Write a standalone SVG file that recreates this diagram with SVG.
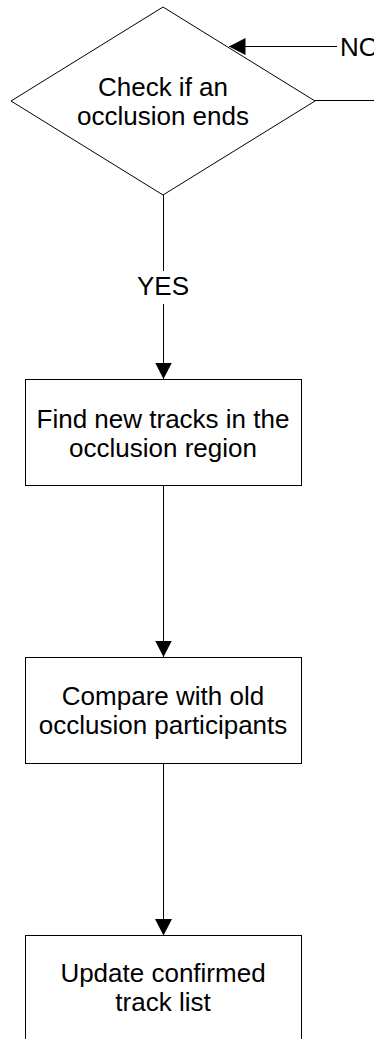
<svg xmlns="http://www.w3.org/2000/svg" width="374" height="1039" viewBox="0 0 374 1039">
  <style>
    .shape { fill: #ffffff; stroke: #000000; stroke-width: 1; }
    .edge { fill: none; stroke: #000000; stroke-width: 1; }
    .label { font-family: "Liberation Sans", Arial, sans-serif; font-size: 26px; fill: #000000; text-anchor: middle; }
    .edge-label { font-family: "Liberation Sans", Arial, sans-serif; font-size: 26px; fill: #000000; }
  </style>
  <defs>
    <marker id="arrow" markerUnits="userSpaceOnUse" markerWidth="17" markerHeight="18" refX="16.5" refY="8.5" orient="auto">
      <path d="M0,0 L16.5,8.5 L0,17 z" fill="#000000"/>
    </marker>
  </defs>

  <rect x="0" y="0" width="374" height="1039" fill="#ffffff"/>

  <!-- connectors -->
  <g id="connectors">
    <!-- loop back into the decision -->
    <path class="edge" d="M337,46.5 L229,46.5" marker-end="url(#arrow)"/>
    <path class="edge" d="M315,100.5 L374,100.5"/>
    <!-- decision to first step, labelled YES -->
    <path class="edge" d="M163.5,195 L163.5,379" marker-end="url(#arrow)"/>
    <rect x="134" y="271" width="58" height="33" fill="#ffffff"/>
    <path class="edge" d="M163.5,486 L163.5,657" marker-end="url(#arrow)"/>
    <path class="edge" d="M163.5,763.5 L163.5,935.5" marker-end="url(#arrow)"/>
    <text class="label" x="163" y="295">YES</text>
    <text class="edge-label" x="340" y="55.5">NO</text>
  </g>

  <!-- decision -->
  <g id="check-occlusion-end">
    <polygon class="shape" points="163,7 315,101 163,195 11,101"/>
    <text class="label" x="163" y="96">Check if an</text>
    <text class="label" x="163" y="125">occlusion ends</text>
  </g>

  <g id="find-new-tracks">
    <rect class="shape" x="25.5" y="379.5" width="276" height="106"/>
    <text class="label" x="163" y="427.5">Find new tracks in the</text>
    <text class="label" x="163" y="456.5">occlusion region</text>
  </g>

  <g id="compare-participants">
    <rect class="shape" x="25.5" y="657.5" width="276" height="106"/>
    <text class="label" x="163" y="704.5">Compare with old</text>
    <text class="label" x="163" y="733.5">occlusion participants</text>
  </g>

  <g id="update-track-list">
    <rect class="shape" x="25.5" y="935.5" width="276" height="106"/>
    <text class="label" x="163" y="982">Update confirmed</text>
    <text class="label" x="163" y="1011">track list</text>
  </g>
</svg>
